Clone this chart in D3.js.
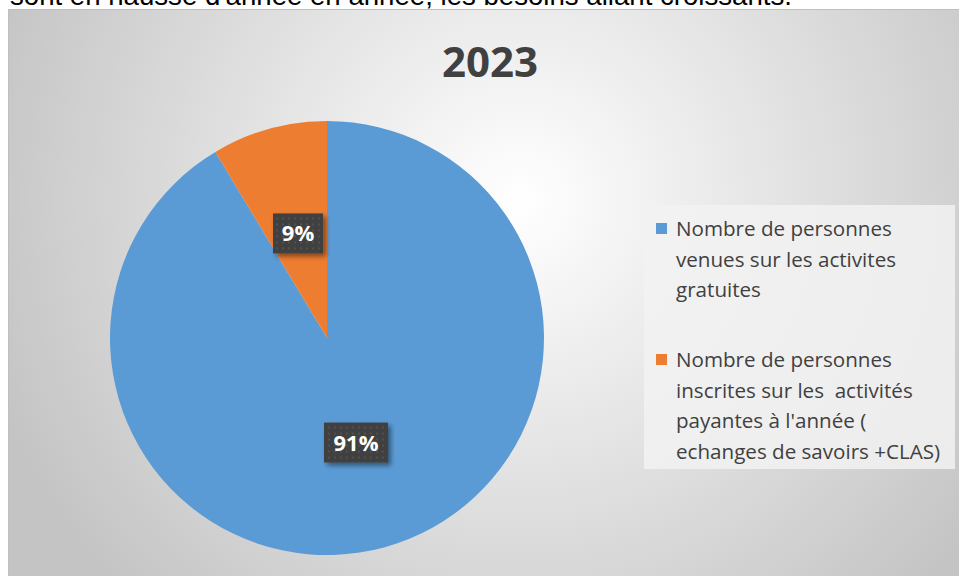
<!DOCTYPE html>
<html>
<head>
<script src="https://cdn.jsdelivr.net/npm/d3@7"></script>
<style>
body { margin: 0; background: white; }
</style>
</head>
<body>
<script>

var width = 959,
    height = 576;

// data
var title = "2023";
var categories = ["Nombre de personnes venues sur les activites gratuites",
                  "Nombre de personnes inscrites sur les  activités payantes à l'année ( echanges de savoirs +CLAS)"];
var legendLines = [["Nombre de personnes", "venues sur les activites", "gratuites"],
                   ["Nombre de personnes", "inscrites sur les  activités", "payantes à l'année (", "echanges de savoirs +CLAS)"]];
var values = [91.4, 8.6];
var colors = ["#5b9bd5", "#ed7d31"];

var font = "'Open Sans', 'Noto Sans', sans-serif";

var svg = d3.select("body")
            .append("svg")
            .attr("width", width)
            .attr("height", height);

var defs = svg.append("defs");

var grad = defs.append("radialGradient")
               .attr("id", "bg")
               .attr("gradientUnits", "userSpaceOnUse")
               .attr("cx", 520).attr("cy", 200).attr("r", 560);
grad.append("stop").attr("offset", "0%").attr("stop-color", "#ffffff");
grad.append("stop").attr("offset", "100%").attr("stop-color", "#c4c4c4");

var pat = defs.append("pattern")
              .attr("id", "dots")
              .attr("patternUnits", "userSpaceOnUse")
              .attr("width", 6).attr("height", 6);
pat.append("rect").attr("width", 6).attr("height", 6).attr("fill", "#404040");
pat.append("circle").attr("cx", 3).attr("cy", 3).attr("r", 1.1).attr("fill", "#555555");

var shadow = defs.append("filter").attr("id", "shadow")
                 .attr("x", "-20%").attr("y", "-20%").attr("width", "150%").attr("height", "160%");
shadow.append("feDropShadow")
      .attr("dx", 3).attr("dy", 3).attr("stdDeviation", 2.5)
      .attr("flood-color", "#000").attr("flood-opacity", 0.45);

// sentence from the document above the chart, cut by the crop
var docText = svg.append("text")
   .attr("x", 10)
   .attr("y", 5)
   .style("font-family", "'Liberation Sans', Arial, sans-serif")
   .style("font-size", "24px")
   .style("fill", "#000")
   .text("sont en hausse d'année en année, les besoins allant croissants.");
// fit it to the width seen in the picture
var tw = docText.node().getComputedTextLength();
docText.style("font-size", (24 * 782 / tw) + "px");

// chart area
svg.append("rect")
   .attr("x", 8.5).attr("y", 9.5)
   .attr("width", 960).attr("height", 580)
   .attr("fill", "url(#bg)")
   .attr("stroke", "#bfbfbf");

svg.append("text")
   .attr("x", 490)
   .attr("y", 77)
   .attr("text-anchor", "middle")
   .style("font-family", font)
   .style("font-weight", "bold")
   .style("font-size", "42px")
   .style("fill", "#404040")
   .text(title);

// pie
var cx = 327, cy = 338, radius = 217;

var pie = d3.pie().sort(null).value(function (d) { return d; });
var arcs = pie(values);
var arc = d3.arc().innerRadius(0).outerRadius(radius);
var labelArc = d3.arc().innerRadius(radius * 0.5).outerRadius(radius * 0.5);

var g = svg.append("g").attr("transform", "translate(" + cx + "," + cy + ")");

g.selectAll("path")
 .data(arcs)
 .enter()
 .append("path")
 .attr("d", arc)
 .attr("fill", function (d, i) { return colors[i]; });

var fmt = d3.format(".0%");
var total = d3.sum(values);

var labels = g.selectAll("g.label")
              .data(arcs)
              .enter()
              .append("g")
              .attr("class", "label")
              .attr("transform", function (d) { return "translate(" + labelArc.centroid(d) + ")"; });

labels.each(function (d) {
  var lg = d3.select(this);
  var txt = fmt(d.value / total);
  var w = txt.length * 14 + 22;
  lg.append("rect")
    .attr("x", -w / 2).attr("y", -20)
    .attr("width", w).attr("height", 40)
    .attr("fill", "url(#dots)")
    .attr("filter", "url(#shadow)");
  lg.append("text")
    .attr("text-anchor", "middle")
    .attr("y", 8)
    .style("font-family", font)
    .style("font-weight", "bold")
    .style("font-size", "22px")
    .style("fill", "#ffffff")
    .text(txt);
});

// legend
var legend = svg.append("g");
legend.append("rect")
      .attr("x", 644).attr("y", 205)
      .attr("width", 311).attr("height", 264)
      .attr("fill", "#f2f2f2")
      .attr("fill-opacity", 0.85);

var groupY = [236, 367];
var lineH = 30.5;

legendLines.forEach(function (lines, i) {
  legend.append("rect")
        .attr("x", 656).attr("y", groupY[i] - 13)
        .attr("width", 11).attr("height", 11)
        .attr("fill", colors[i]);
  legend.append("text")
        .attr("x", 676)
        .attr("y", groupY[i])
        .style("font-family", font)
        .style("font-size", "20.6px")
        .style("fill", "#404040")
        .style("white-space", "pre")
        .selectAll("tspan")
        .data(lines)
        .enter()
        .append("tspan")
        .attr("x", 676)
        .attr("dy", function (d, j) { return j ? lineH : 0; })
        .text(function (d) { return d; });
});

</script>
</body>
</html>
